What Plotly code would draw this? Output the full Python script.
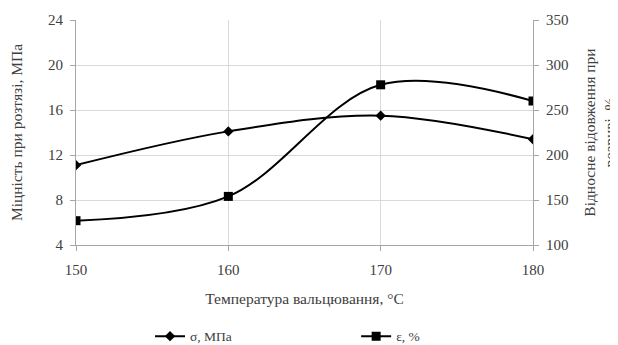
import plotly.graph_objects as go

temps = [150, 160, 170, 180]
sigma = [11.1, 14.1, 15.5, 13.4]
eps = [127, 154, 278, 260]

x_ticks = [150, 160, 170, 180]
y1_ticks = [4, 8, 12, 16, 20, 24]
y2_ticks = [100, 150, 200, 250, 300, 350]

FONT = "Liberation Serif, Times New Roman, serif"
TXT = "#404040"
GRID = "#d9d9d9"
AX = "#a6a6a6"
TICK_SIZE = 15
TITLE_SIZE = 15.5

fig = go.Figure()
fig.add_trace(go.Scatter(
    x=temps, y=sigma, name="σ, МПа", mode="lines+markers",
    line=dict(color="black", width=2, shape="spline", smoothing=1),
    marker=dict(symbol="diamond", size=8, color="black"),
    yaxis="y", legend="legend",
))
fig.add_trace(go.Scatter(
    x=temps, y=eps, name="ε, %", mode="lines+markers",
    line=dict(color="black", width=2, shape="spline", smoothing=1),
    marker=dict(symbol="square", size=9, color="black"),
    yaxis="y2", legend="legend2",
))

axis_common = dict(
    showline=True, linecolor=AX, ticks="outside", tickcolor=AX, ticklen=5,
    zeroline=False, automargin=False,
    tickfont=dict(family=FONT, size=TICK_SIZE, color=TXT),
)

fig.update_layout(
    width=610, height=337,
    margin=dict(l=68, r=85, t=12, b=99.5, autoexpand=False),
    paper_bgcolor="white", plot_bgcolor="white",
    font=dict(family=FONT, size=13, color=TXT),
    xaxis=dict(
        range=[150, 180], tickvals=x_ticks, showgrid=True, gridcolor=GRID,
        ticklabelstandoff=6, **axis_common,
        title=dict(text="Температура вальцювання, °С", font=dict(family=FONT, size=TITLE_SIZE, color=TXT), standoff=16),
    ),
    yaxis=dict(
        range=[4, 24], tickvals=y1_ticks, showgrid=True, gridcolor=GRID,
        ticklabelstandoff=4, **axis_common,
        title=dict(text="Міцність при розтязі, МПа", font=dict(family=FONT, size=TITLE_SIZE, color=TXT), standoff=21),
    ),
    yaxis2=dict(
        range=[100, 350], tickvals=y2_ticks, overlaying="y", side="right",
        showgrid=False, ticklabelstandoff=4, **axis_common,
        title=dict(text="Відносне відовження при<br>розриві ,%", font=dict(family=FONT, size=TITLE_SIZE, color=TXT), standoff=24),
    ),
    legend=dict(
        x=0.162, y=-0.406, xanchor="left", yanchor="middle", itemwidth=30,
        font=dict(family=FONT, size=13.5, color=TXT), bgcolor="rgba(0,0,0,0)",
    ),
    legend2=dict(
        x=0.613, y=-0.406, xanchor="left", yanchor="middle", itemwidth=30,
        font=dict(family=FONT, size=13.5, color=TXT), bgcolor="rgba(0,0,0,0)",
    ),
    showlegend=True,
)

fig.write_html("out.html")
